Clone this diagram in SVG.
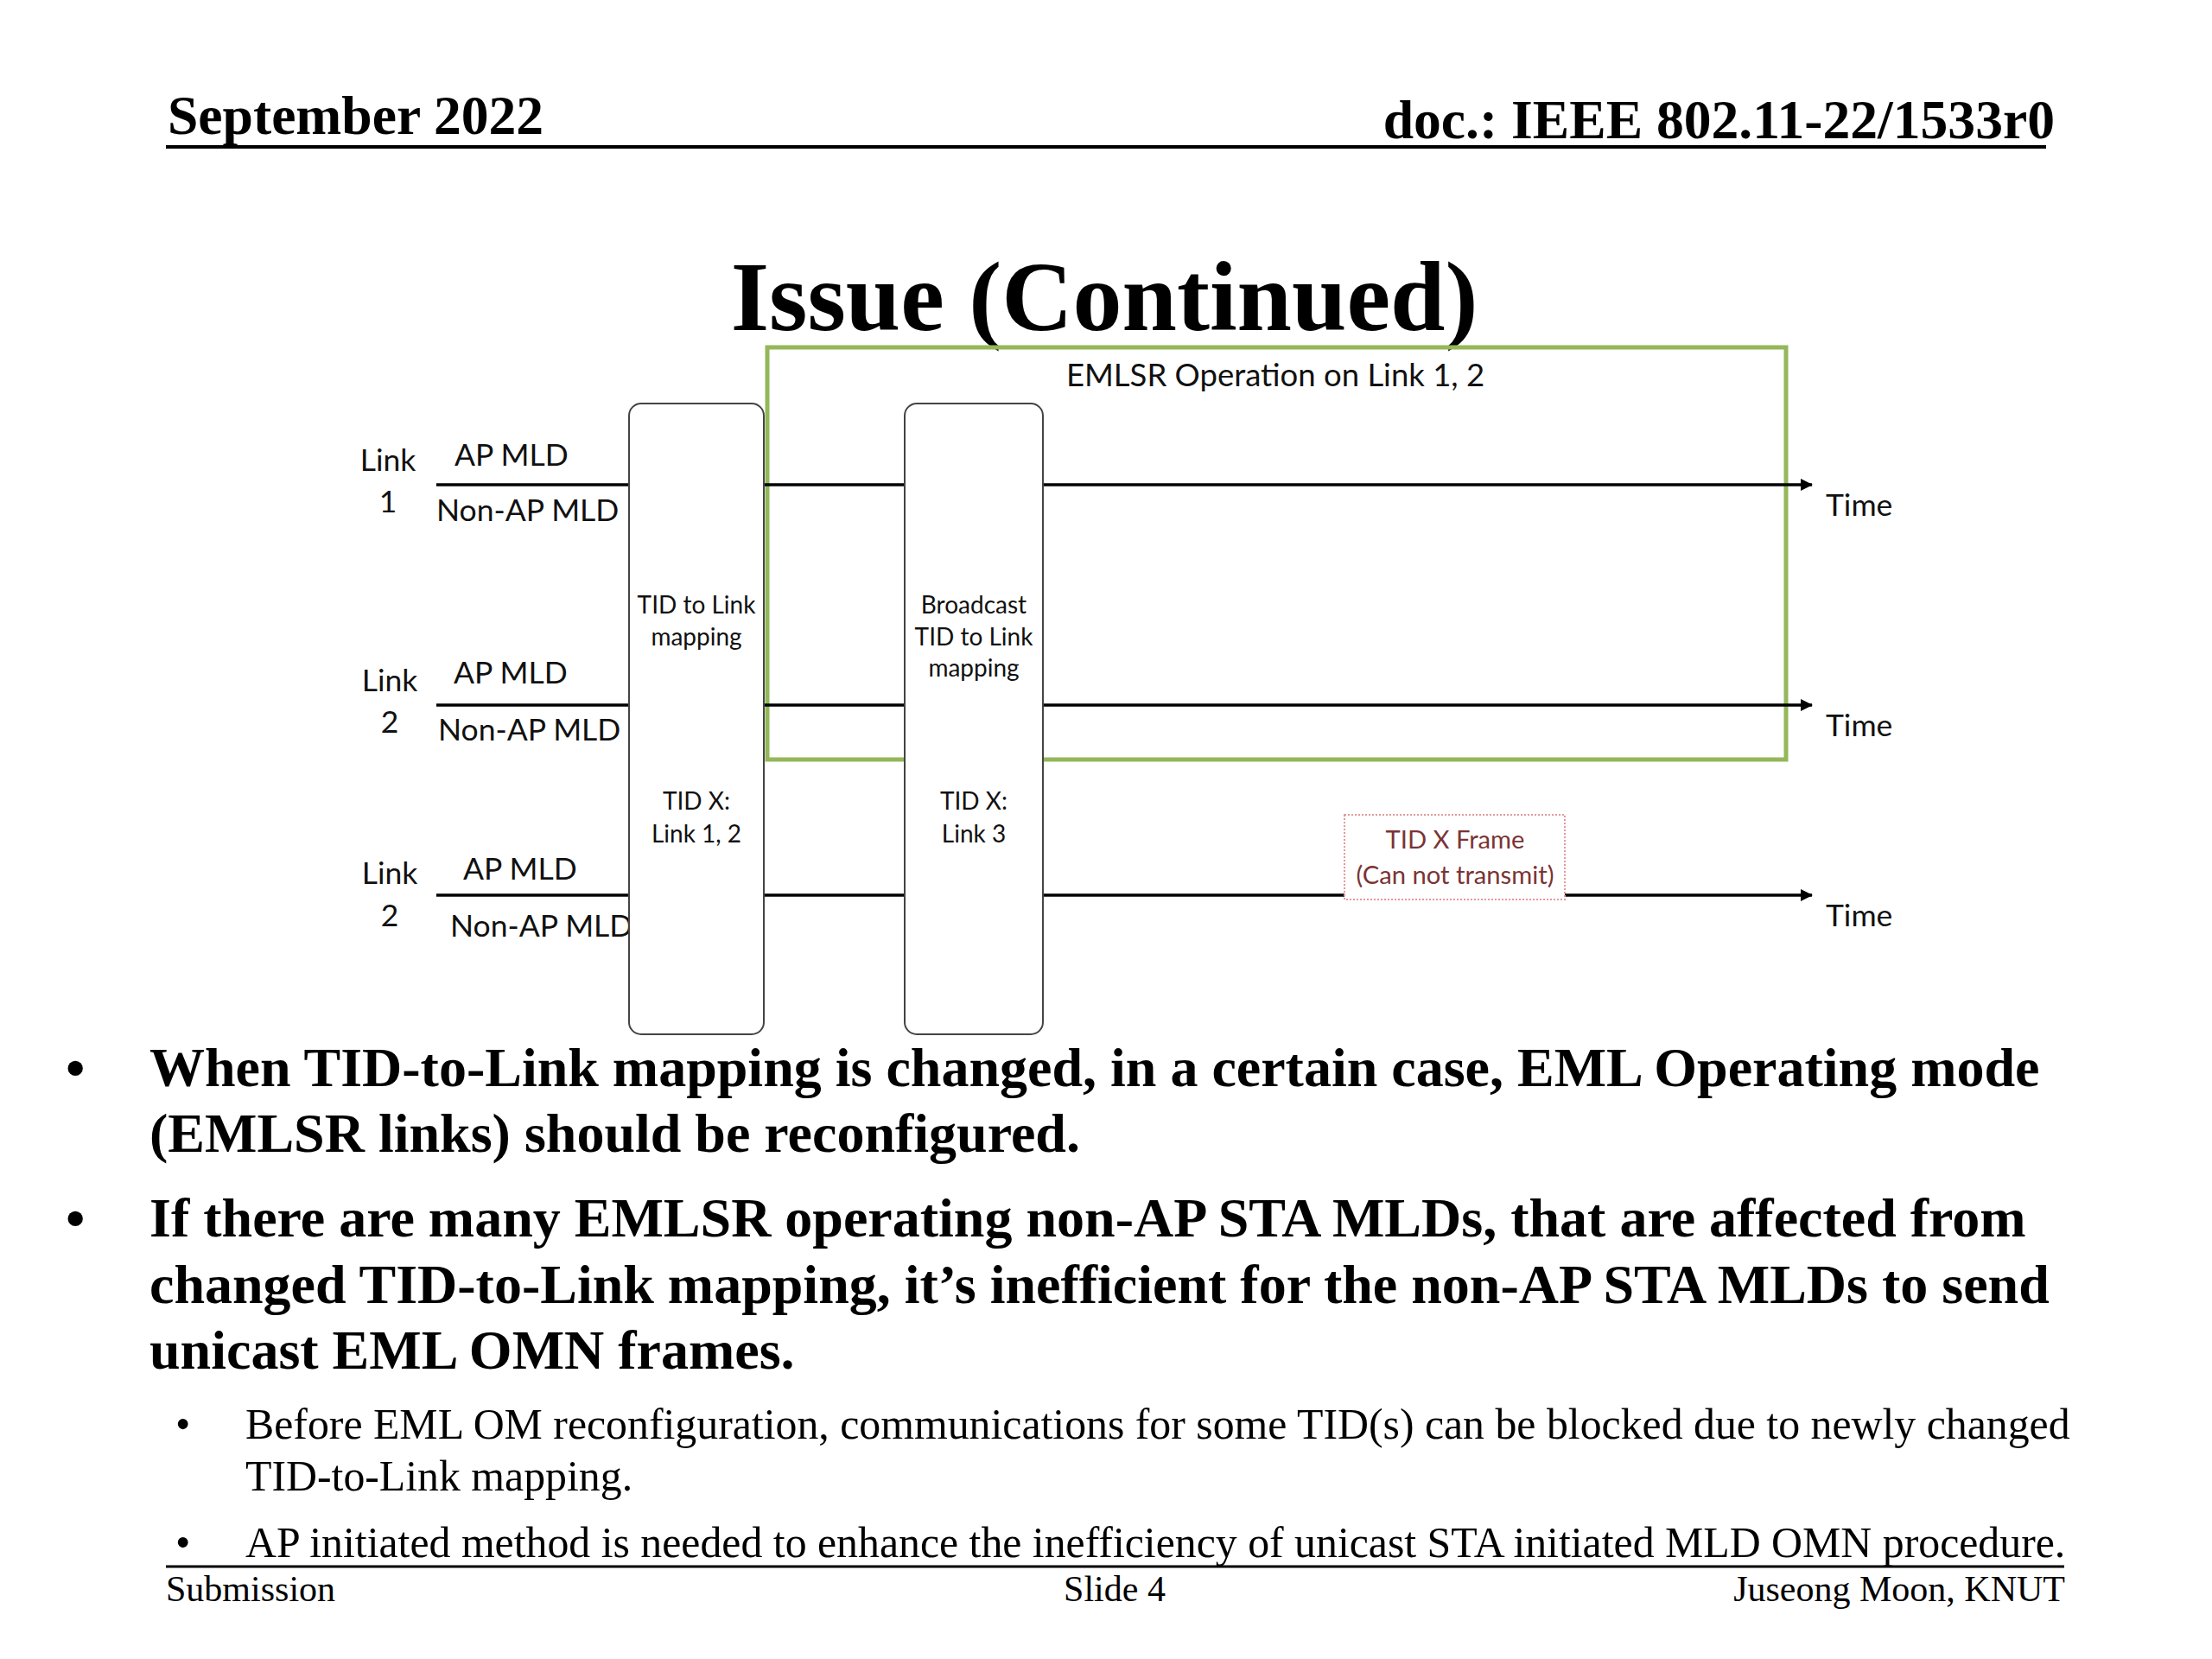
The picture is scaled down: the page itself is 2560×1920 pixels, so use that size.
<svg xmlns="http://www.w3.org/2000/svg" width="2560" height="1920" viewBox="0 0 2560 1920">
<defs>
<marker id="arr" markerWidth="14" markerHeight="14" refX="13" refY="7" orient="auto" markerUnits="userSpaceOnUse">
<path d="M0,0 L14,7 L0,14 Z" fill="#000"/>
</marker>
<style>
.hdr{font-family:"Liberation Serif","Times New Roman",serif;font-weight:bold;font-size:63.6px;fill:#000}
.title{font-family:"Liberation Serif","Times New Roman",serif;font-weight:bold;font-size:114px;fill:#000}
.b1{font-family:"Liberation Serif","Times New Roman",serif;font-weight:bold;font-size:64px;fill:#000}
.b2{font-family:"Liberation Serif","Times New Roman",serif;font-size:49.8px;fill:#000}
.ftr{font-family:"Liberation Serif","Times New Roman",serif;font-size:42px;fill:#000}
.lbl{font-family:Lato,"Open Sans",sans-serif;font-size:35.5px;fill:#111}
.big{font-size:36.5px}
.sm{font-family:Lato,"Open Sans",sans-serif;font-size:28px;fill:#111;text-anchor:middle}
.fr{font-family:Lato,"Open Sans",sans-serif;font-size:29.2px;fill:#7B3434;text-anchor:middle}
.tl{stroke:#000;stroke-width:3.5;fill:none}
.box{fill:#fff;stroke:#444;stroke-width:2}
.mid{text-anchor:middle}
</style>
</defs>
<rect width="2560" height="1920" fill="#fff"/>

<g id="header">
<text class="hdr" x="194" y="155">September 2022</text>
<text class="hdr" x="2378" y="160" text-anchor="end">doc.: IEEE 802.11-22/1533r0</text>
<line x1="192" y1="170" x2="2368" y2="170" stroke="#000" stroke-width="4"/>
</g>

<text id="title" class="title" x="1278" y="382" text-anchor="middle">Issue (Continued)</text>

<g id="emlsr-region">
<rect x="888" y="402" width="1179" height="477" fill="none" stroke="#94B75A" stroke-width="5"/>
<text class="lbl big mid" x="1476" y="447">EMLSR Operation on Link 1, 2</text>
</g>

<g id="connectors">
<line class="tl" x1="505" y1="561" x2="2097" y2="561" marker-end="url(#arr)"/>
<line class="tl" x1="505" y1="816" x2="2097" y2="816" marker-end="url(#arr)"/>
<line class="tl" x1="505" y1="1036" x2="2097" y2="1036" marker-end="url(#arr)"/>
</g>

<g id="link1-labels">
<text class="lbl mid" x="449" y="545">Link</text>
<text class="lbl mid" x="449" y="593">1</text>
<text class="lbl" x="526" y="539">AP MLD</text>
<text class="lbl" x="505" y="603">Non-AP MLD</text>
<text class="lbl" x="2113" y="597">Time</text>
</g>
<g id="link2-labels">
<text class="lbl mid" x="451" y="800">Link</text>
<text class="lbl mid" x="451" y="848">2</text>
<text class="lbl" x="525" y="791">AP MLD</text>
<text class="lbl" x="507" y="857">Non-AP MLD</text>
<text class="lbl" x="2113" y="852">Time</text>
</g>
<g id="link3-labels">
<text class="lbl mid" x="451" y="1023">Link</text>
<text class="lbl mid" x="451" y="1072">2</text>
<text class="lbl" x="536" y="1018">AP MLD</text>
<text class="lbl" x="521" y="1084">Non-AP MLD</text>
<text class="lbl" x="2113" y="1072">Time</text>
</g>

<g id="tid-to-link-mapping">
<rect class="box" x="728" y="467" width="156" height="730" rx="14"/>
<text class="sm" x="806" y="710">TID to Link</text>
<text class="sm" x="806" y="747">mapping</text>
<text class="sm" x="806" y="937">TID X:</text>
<text class="sm" x="806" y="975">Link 1, 2</text>
</g>

<g id="broadcast-tid-to-link-mapping">
<rect class="box" x="1047" y="467" width="160" height="730" rx="14"/>
<text class="sm" x="1127" y="710">Broadcast</text>
<text class="sm" x="1127" y="747">TID to Link</text>
<text class="sm" x="1127" y="783">mapping</text>
<text class="sm" x="1127" y="937">TID X:</text>
<text class="sm" x="1127" y="975">Link 3</text>
</g>

<g id="tid-x-frame">
<rect x="1556" y="943" width="255" height="98" fill="#fff" stroke="#E39A9A" stroke-width="2" stroke-dasharray="2,2"/>
<text class="fr" x="1684" y="982">TID X Frame</text>
<text class="fr" x="1684" y="1023">(Can not transmit)</text>
</g>

<g id="bullets">
<text class="b1" x="76" y="1257">•</text>
<text class="b1" x="173" y="1257">When TID-to-Link mapping is changed, in a certain case, EML Operating mode</text>
<text class="b1" x="173" y="1333">(EMLSR links) should be reconfigured.</text>
<text class="b1" x="76" y="1431">•</text>
<text class="b1" x="173" y="1431">If there are many EMLSR operating non-AP STA MLDs, that are affected from</text>
<text class="b1" x="173" y="1508">changed TID-to-Link mapping, it’s inefficient for the non-AP STA MLDs to send</text>
<text class="b1" x="173" y="1584">unicast EML OMN frames.</text>
<text class="b2" x="203" y="1665">•</text>
<text class="b2" x="284" y="1665">Before EML OM reconfiguration, communications for some TID(s) can be blocked due to newly changed</text>
<text class="b2" x="284" y="1725">TID-to-Link mapping.</text>
<text class="b2" x="203" y="1802">•</text>
<text class="b2" x="284" y="1802">AP initiated method is needed to enhance the inefficiency of unicast STA initiated MLD OMN procedure.</text>
</g>

<g id="footer">
<line x1="192" y1="1813" x2="2389" y2="1813" stroke="#000" stroke-width="3"/>
<text class="ftr" x="192" y="1853">Submission</text>
<text class="ftr" x="1290" y="1853" text-anchor="middle">Slide 4</text>
<text class="ftr" x="2390" y="1853" text-anchor="end">Juseong Moon, KNUT</text>
</g>
</svg>
